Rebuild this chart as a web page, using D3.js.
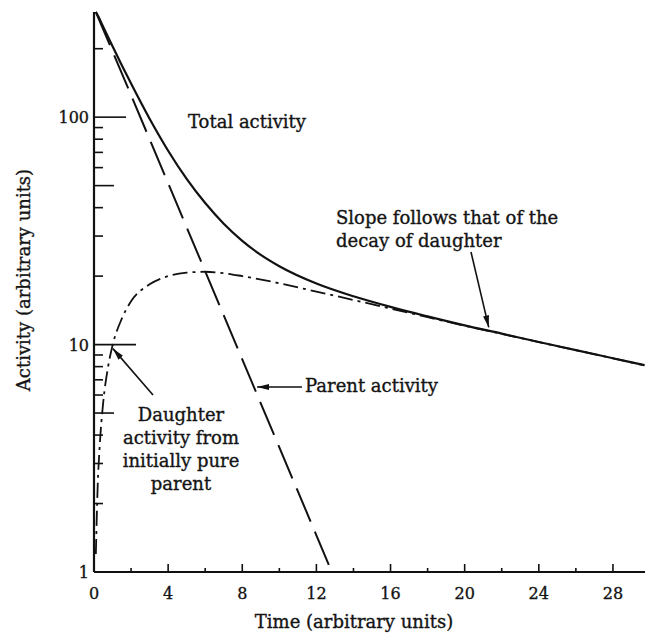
<!DOCTYPE html>
<html><head><meta charset="utf-8">
<script src="https://cdn.jsdelivr.net/npm/d3@7"></script>
<style>
body{margin:0;background:#fff}
svg text{font-family:"DejaVu Serif",serif;fill:#141414;stroke:#141414;stroke-width:0.35px}
</style>
</head><body>
<svg id="c" width="645" height="637"></svg>
<script>
// ---- data ----
const xTickValues = [0, 4, 8, 12, 16, 20, 24, 28];
const xMinorTicks = [2, 6, 10, 14, 18, 22, 26];
const yTickLabels = [1, 10, 100];
const yMinorTicks = [2, 3, 4, 5, 6, 7, 8, 9, 20, 30, 40, 50, 60, 70, 80, 90, 200];

const tParent = [0.1, 2, 4, 6, 8, 10, 12, 12.83];
const parentActivity = [290, 125, 51.2, 21.0, 8.61, 3.53, 1.45, 1.0];

const tDaughter = [0.1, 0.2, 0.3, 0.5, 0.75, 1, 1.5, 2, 3, 4, 5, 6, 7, 8, 10, 12, 14, 16, 18, 20, 22, 24, 26, 28, 29.7];
const daughterActivity = [1.2, 2.4, 3.5, 5.6, 7.9, 9.9, 13.0, 15.5, 18.4, 20.0, 20.7, 20.9, 20.6, 20.0, 18.6, 17.1, 15.7, 14.4, 13.2, 12.1, 11.15, 10.25, 9.45, 8.7, 8.1];

const tTotal = [0.1, 0.25, 0.5, 1, 1.5, 2, 3, 4, 5, 6, 7, 8, 9, 10, 12, 14, 16, 18, 20, 22, 24, 26, 28, 29.7];
const totalActivity = [290, 275.6, 249.5, 205.1, 169.2, 140.5, 98.4, 71.2, 53.5, 41.9, 34.0, 28.6, 24.8, 22.1, 18.55, 16.3, 14.64, 13.3, 12.14, 11.17, 10.26, 9.46, 8.71, 8.12];

// ---- scales ----
const svg = d3.select("#c");
const x = d3.scaleLinear().domain([0, 29.73]).range([94, 645]);
const y = d3.scaleLog().domain([1, 290]).range([572, 12]);

// ---- axes ----
const ax = svg.append("g").attr("stroke", "#111").attr("fill", "none");
ax.append("line").attr("x1", x(0)).attr("x2", 645).attr("y1", y(1)).attr("y2", y(1)).attr("stroke-width", 2.2);
ax.append("line").attr("x1", x(0)).attr("x2", x(0)).attr("y1", y(1)).attr("y2", y(290)).attr("stroke-width", 2.2);

xTickValues.filter(d => d > 0).forEach(d => {
  ax.append("line").attr("x1", x(d)).attr("x2", x(d)).attr("y1", y(1)).attr("y2", y(1) - 8).attr("stroke-width", 1.6);
});
xMinorTicks.forEach(d => {
  ax.append("line").attr("x1", x(d)).attr("x2", x(d)).attr("y1", y(1)).attr("y2", y(1) - 4).attr("stroke-width", 1.6);
});
const yLen = v => v === 10 ? 42 : v === 100 ? 32 : (v === 5 || v === 50) ? 20 : 9;
yTickLabels.filter(v => v > 1).concat(yMinorTicks).forEach(v => {
  ax.append("line").attr("x1", x(0)).attr("x2", x(0) + yLen(v)).attr("y1", y(v)).attr("y2", y(v)).attr("stroke-width", 1.6);
});

svg.append("g").selectAll("text").data(xTickValues).join("text")
  .attr("x", d => x(d)).attr("y", 599).attr("text-anchor", "middle")
  .attr("font-size", 16).text(d => d);
svg.append("g").selectAll("text").data(yTickLabels).join("text")
  .attr("x", 89).attr("y", d => y(d) + 6).attr("text-anchor", "end")
  .attr("font-size", 16).text(d => d);

svg.append("text").attr("x", 354).attr("y", 628).attr("text-anchor", "middle")
  .attr("font-size", 18).text("Time (arbitrary units)");
svg.append("text").attr("transform", "translate(30,280) rotate(-90)").attr("text-anchor", "middle")
  .attr("font-size", 18).text("Activity (arbitrary units)");

// ---- curves ----
const mk = (ts, vs) => ts.map((t, i) => [t, vs[i]]);
const line = d3.line().x(d => x(d[0])).y(d => y(d[1]));
const smooth = d3.line().x(d => x(d[0])).y(d => y(d[1])).curve(d3.curveMonotoneX);

svg.append("path").attr("d", line(mk(tParent, parentActivity)))
  .attr("fill", "none").attr("stroke", "#111").attr("stroke-width", 2)
  .attr("stroke-dasharray", "36,11");
svg.append("path").attr("d", smooth(mk(tDaughter, daughterActivity)))
  .attr("fill", "none").attr("stroke", "#111").attr("stroke-width", 1.8)
  .attr("stroke-dasharray", "15,5,3,5");
svg.append("path").attr("d", smooth(mk(tTotal, totalActivity)))
  .attr("fill", "none").attr("stroke", "#111").attr("stroke-width", 2.2);

// ---- annotations ----
const defs = svg.append("defs");
defs.append("marker").attr("id", "ah").attr("viewBox", "0 0 12 8").attr("refX", 12).attr("refY", 4)
  .attr("markerWidth", 12).attr("markerHeight", 8).attr("markerUnits", "userSpaceOnUse").attr("orient", "auto")
  .append("path").attr("d", "M0,1 L12,4 L0,7 Z").attr("fill", "#111");

const arrow = (x1, y1, x2, y2) => svg.append("line").attr("x1", x1).attr("y1", y1).attr("x2", x2).attr("y2", y2)
  .attr("stroke", "#111").attr("stroke-width", 1.6).attr("marker-end", "url(#ah)");

const ann = svg.append("g").attr("font-size", 18);
ann.append("text").attr("x", 188).attr("y", 128).text("Total activity");

ann.append("text").attr("x", 305).attr("y", 392).text("Parent activity");
arrow(302, 387, x(8.8), 387);

const dLines = ["Daughter", "activity from", "initially pure", "parent"];
ann.append("g").selectAll("text").data(dLines).join("text")
  .attr("x", 181).attr("y", (d, i) => 421 + i * 23).attr("text-anchor", "middle").text(d => d);
arrow(153, 395, x(1.02), y(9.6));

ann.append("text").attr("x", 336).attr("y", 224).text("Slope follows that of the");
ann.append("text").attr("x", 336).attr("y", 247).text("decay of daughter");
arrow(471, 252, x(21.3), y(11.9));
</script>
</body></html>
